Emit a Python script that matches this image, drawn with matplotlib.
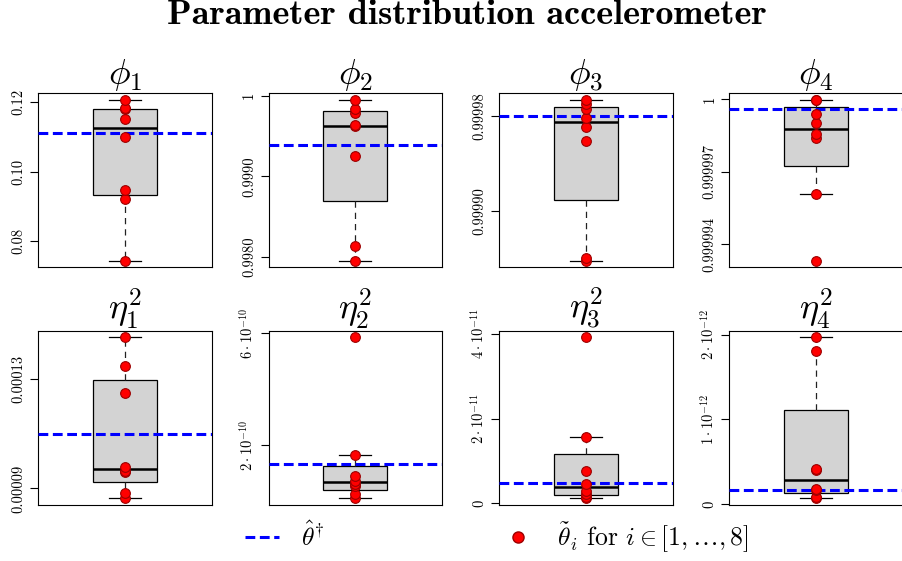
import numpy as np
import matplotlib
matplotlib.use("Agg")
import matplotlib.pyplot as plt
from matplotlib.lines import Line2D

plt.rcParams['font.family'] = 'serif'
plt.rcParams['font.serif'] = ['cmr10', 'DejaVu Serif']
plt.rcParams['mathtext.fontset'] = 'cm'
plt.rcParams['axes.formatter.use_mathtext'] = True

# estimates per parameter (8 each)
phi1 = [0.0744, 0.0921, 0.0947, 0.1099, 0.1152, 0.1180, 0.1183, 0.1207]
phi2 = [0.99795, 0.99813, 0.99925, 0.99962, 0.99964, 0.99979, 0.99984, 0.99995]
phi3 = [0.999858, 0.999860, 0.999959, 0.999971, 0.999979, 0.999986, 0.999990, 0.999994]
phi4 = [0.99999332, 0.99999607, 0.99999838, 0.99999854, 0.99999900, 0.99999938,
        0.99999995, 0.99999997]
eta1 = [8.64e-5, 8.85e-5, 9.60e-5, 9.63e-5, 9.77e-5, 1.247e-4, 1.346e-4, 1.453e-4]
eta2 = [0.09e-10, 0.23e-10, 0.53e-10, 0.60e-10, 0.71e-10, 0.87e-10, 1.63e-10, 5.85e-10]
eta3 = [0.12e-11, 0.16e-11, 0.23e-11, 0.30e-11, 0.45e-11, 0.76e-11, 1.57e-11, 3.92e-11]
eta4 = [0.07e-12, 0.09e-12, 0.17e-12, 0.18e-12, 0.40e-12, 0.41e-12, 1.81e-12, 1.97e-12]

# reference value (blue dashed line)
theta_dag = [0.1112, 0.99939, 0.99998, 0.9999996, 1.10e-4, 1.31e-10, 0.485e-11, 0.165e-12]

titles = [r'$\phi_1$', r'$\phi_2$', r'$\phi_3$', r'$\phi_4$',
          r'$\eta_1^2$', r'$\eta_2^2$', r'$\eta_3^2$', r'$\eta_4^2$']

yticks = [[0.08, 0.10, 0.12],
          [0.9980, 0.9990, 1.0],
          [0.99990, 0.99998],
          [0.999994, 0.999997, 1.0],
          [0.00009, 0.00013],
          [2e-10, 6e-10],
          [0, 2e-11, 4e-11],
          [0, 1e-12, 2e-12]]
ylabels = [['0.08', '0.10', '0.12'],
           ['0.9980', '0.9990', '1'],
           ['0.99990', '0.99998'],
           ['0.999994', '0.999997', '1'],
           ['0.00009', '0.00013'],
           [r'$2\cdot10^{-10}$', r'$6\cdot10^{-10}$'],
           ['0', r'$2\cdot10^{-11}$', r'$4\cdot10^{-11}$'],
           ['0', r'$1\cdot10^{-12}$', r'$2\cdot10^{-12}$']]

data = [phi1, phi2, phi3, phi4, eta1, eta2, eta3, eta4]


def r_boxstats(x):
    # R style fivenum hinges and whiskers (range = 1.5)
    x = np.sort(np.asarray(x))
    n = len(x)
    n4 = np.floor((n + 3) / 2) / 2
    d = np.array([1, n4, (n + 1) / 2, n + 1 - n4, n]) - 1
    fn = 0.5 * (x[np.floor(d).astype(int)] + x[np.ceil(d).astype(int)])
    iqr = fn[3] - fn[1]
    lo = x[x >= fn[1] - 1.5 * iqr].min()
    hi = x[x <= fn[3] + 1.5 * iqr].max()
    return dict(med=fn[2], q1=fn[1], q3=fn[3], whislo=lo, whishi=hi, fliers=[])


W, H = 902, 561
fig = plt.figure(figsize=(W / 100, H / 100), dpi=100)

lefts = [38, 268.5, 499, 729]
tops = [93.3, 330.7]
aw, ah = 173.5, 174

for k, vals in enumerate(data):
    r, c = divmod(k, 4)
    ax = fig.add_axes([lefts[c] / W, 1 - (tops[r] + ah) / H, aw / W, ah / H])
    st = r_boxstats(vals)
    ax.bxp([st], positions=[1], widths=0.4, patch_artist=True, showfliers=False,
           boxprops=dict(facecolor='#D3D3D3', edgecolor='black', lw=0.9),
           medianprops=dict(color='black', lw=1.8),
           whiskerprops=dict(color='#222222', lw=0.9, ls=(0, (5, 4))),
           capprops=dict(color='black', lw=0.9))
    ax.axhline(theta_dag[k], color='blue', lw=2.2, ls=(0, (3.2, 1.5)), zorder=3)
    ax.plot(np.ones(len(vals)), vals, 'o', mfc='red', mec='#9b0000', mew=0.8,
            ms=7, zorder=4)
    lo, hi = min(vals), max(vals)
    pad = 0.04 * (hi - lo)
    ax.set_ylim(lo - pad, hi + pad)
    ax.set_xlim(0.46, 1.54)
    ax.set_xticks([])
    ax.set_yticks(yticks[k], ylabels[k], rotation=90, va='center', fontsize=10.5)
    ax.tick_params(axis='y', length=6, width=0.8, pad=3)
    for s in ax.spines.values():
        s.set_linewidth(0.8)
    ax.set_title(titles[k], fontsize=26, pad=6)

fig.suptitle('Parameter distribution accelerometer', fontsize=26,
             fontfamily='cmb10', x=467 / W, y=1 - 16 / H, va='center')

handles = [Line2D([], [], color='blue', lw=2.2, ls=(0, (3.2, 1.5))),
           Line2D([], [], ls='none', marker='o', mfc='red', mec='#9b0000', ms=8)]
labels = [r'$\hat{\theta}^{\dagger}$', r'$\tilde{\theta}_i$ for $i \in [1,\ldots,8]$']
fig.legend(handles, labels, loc='center', bbox_to_anchor=(497 / W, 1 - 538 / H),
           ncol=2, frameon=False, fontsize=18.5, handlelength=1.32,
           handletextpad=0.85, columnspacing=6.9)

fig.savefig('out.png', dpi=100)
